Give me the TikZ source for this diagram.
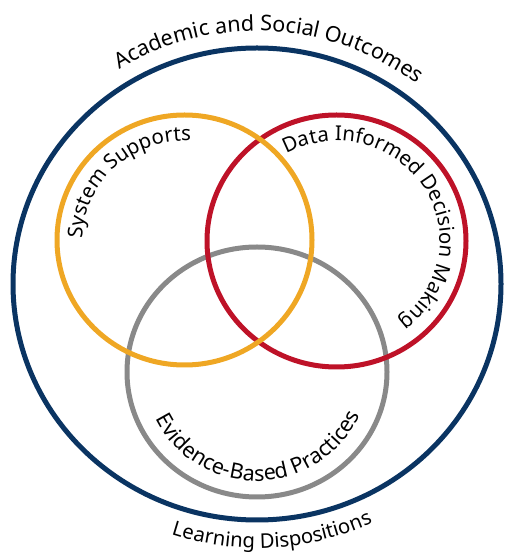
\documentclass[tikz,border=0pt]{standalone}
\usepackage{fontspec}
\setmainfont{Noto Sans}
\usetikzlibrary{decorations.text,calc}
\definecolor{navy}{RGB}{10,52,98}
\definecolor{gold}{RGB}{239,167,36}
\definecolor{crimson}{RGB}{190,18,40}
\definecolor{midgray}{RGB}{137,137,137}
\tikzset{
  ring/.style={line width=5pt},
  arctext/.style={decorate, decoration={text along path, text align=center, text={#1}}}
}
\begin{document}
\begin{tikzpicture}[x=1pt,y=1pt]
\useasboundingbox (0,0) rectangle (505,557);
\coordinate (cN) at (257,273);
\coordinate (cO) at (184.5,317);
\coordinate (cR) at (336.5,316);
\coordinate (cG) at (257,185);
% rings
\draw[ring, navy] (cN) ellipse [x radius=244pt, y radius=236pt];
\draw[ring, midgray] (cG) ellipse [x radius=130pt, y radius=125pt];
\draw[ring, crimson] (cR) ellipse [x radius=129.5pt, y radius=126pt];
\draw[ring, gold] (cO) ellipse [x radius=127.5pt, y radius=125pt];
% texts
\path[arctext={|\fontsize{21.6}{26}\selectfont|Academic and Social Outcomes}]
  ($(cN)+(165:261pt and 253pt)$) arc [start angle=165, end angle=9, x radius=261pt, y radius=253pt];
\path[arctext={|\fontsize{20.3}{24}\selectfont|Learning Dispositions}]
  ($(cN)+(225:272pt and 264pt)$) arc [start angle=225, end angle=322, x radius=272pt, y radius=264pt];
\path[arctext={|\fontsize{20.5}{24}\selectfont|System Supports}]
  ($(cO)+(215:101.5pt and 99pt)$) arc [start angle=215, end angle=51, x radius=101.5pt, y radius=99pt];
\path[arctext={|\fontsize{20.5}{24}\selectfont|Data Informed Decision Making}]
  ($(cR)+(175:103.5pt and 100pt)$) arc [start angle=175, end angle=-108, x radius=103.5pt, y radius=100pt];
\path[arctext={|\fontsize{21.5}{25}\selectfont|Evidence-Based Practices}]
  ($(cG)+(185:112pt and 109pt)$) arc [start angle=185, end angle=357, x radius=112pt, y radius=109pt];
\end{tikzpicture}
\end{document}
